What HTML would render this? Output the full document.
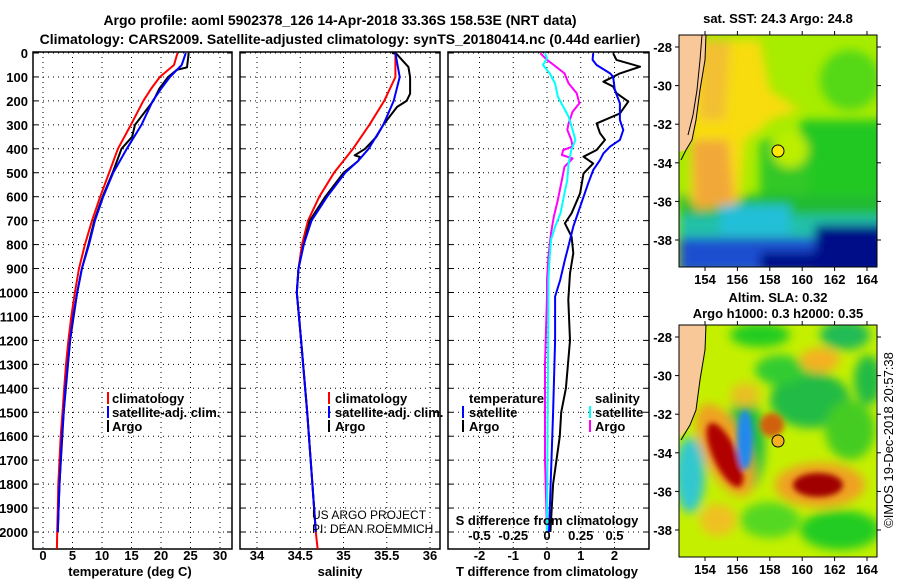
<!DOCTYPE html>
<html><head><meta charset="utf-8"><style>
html,body{margin:0;padding:0;background:#fff;}
svg{display:block;font-family:"Liberation Sans",Arial,sans-serif;}
.b{font-weight:bold;font-size:13px;}
</style></head><body>
<svg id="chart" width="900" height="580" viewBox="0 0 900 580">
<defs>
<filter id="blur4" x="-20%" y="-20%" width="140%" height="140%"><feGaussianBlur stdDeviation="5"/></filter>
<filter id="blur2" x="-20%" y="-20%" width="140%" height="140%"><feGaussianBlur stdDeviation="3"/></filter>
<clipPath id="cTop"><rect x="679" y="35" width="198" height="232"/></clipPath>
<clipPath id="cBot"><rect x="679" y="325" width="198" height="232"/></clipPath>
<clipPath id="cp1"><rect x="33" y="52" width="199" height="497"/></clipPath>
<clipPath id="cp2"><rect x="240" y="52" width="200" height="497"/></clipPath>
<clipPath id="cp3"><rect x="448" y="52" width="201" height="497"/></clipPath>
</defs>
<text x="340" y="25" text-anchor="middle" class="b" style="font-size:14px">Argo profile: aoml 5902378_126 14-Apr-2018 33.36S 158.53E (NRT data)</text>
<text x="340" y="44" text-anchor="middle" class="b" style="font-size:14px">Climatology: CARS2009. Satellite-adjusted climatology: synTS_20180414.nc (0.44d earlier)</text>
<g id="axes"></g>
<g id="series"></g>
<g id="legends">
  <g class="b">
    <rect x="107" y="392" width="2" height="12" fill="#f00"/><text x="112" y="403">climatology</text>
    <rect x="107" y="406" width="2" height="12" fill="#00f"/><text x="112" y="417">satellite-adj. clim.</text>
    <rect x="107" y="420" width="2" height="12" fill="#000"/><text x="112" y="431">Argo</text>
  </g>
  <g class="b">
    <rect x="328" y="392" width="2" height="12" fill="#f00"/><text x="335" y="403">climatology</text>
    <rect x="328" y="406" width="2" height="12" fill="#00f"/><text x="335" y="417">satellite-adj. clim.</text>
    <rect x="328" y="420" width="2" height="12" fill="#000"/><text x="335" y="431">Argo</text>
  </g>
  <g class="b">
    <text x="469" y="403">temperature</text>
    <rect x="462" y="406" width="2" height="12" fill="#00f"/><text x="469" y="417">satellite</text>
    <rect x="462" y="420" width="2" height="12" fill="#000"/><text x="469" y="431">Argo</text>
    <text x="595" y="403">salinity</text>
    <rect x="589" y="406" width="2" height="12" fill="#0ff"/><text x="595" y="417">satellite</text>
    <rect x="589" y="420" width="2" height="12" fill="#f0f"/><text x="595" y="431">Argo</text>
  </g>
</g>
<text x="312" y="519" font-size="12" fill="#000">US ARGO PROJECT</text>
<text x="312" y="533" font-size="12" fill="#000">PI: DEAN ROEMMICH</text>
<text x="547" y="525" text-anchor="middle" class="b">S difference from climatology</text>
<g id="sTicks" class="b" text-anchor="middle"></g>
<text x="130" y="576" text-anchor="middle" class="b">temperature (deg C)</text>
<text x="340" y="576" text-anchor="middle" class="b">salinity</text>
<text x="547" y="576" text-anchor="middle" class="b">T difference from climatology</text>

<!-- top map SST -->
<text x="778" y="23" text-anchor="middle" class="b">sat. SST: 24.3 Argo: 24.8</text>
<g clip-path="url(#cTop)">
  <rect x="679" y="35" width="198" height="232" fill="#a8ec00"/>
  <g filter="url(#blur4)">
    <ellipse cx="850" cy="80" rx="30" ry="30" fill="#55d818"/>
    <rect x="800" y="120" width="90" height="90" fill="#22c822"/>
    <rect x="760" y="140" width="50" height="70" fill="#30c828"/>
    <rect x="679" y="195" width="210" height="30" fill="#22bb33"/>
    <path d="M705 40 L760 40 L770 90 L800 110 L770 120 L760 130 L745 140 L740 200 L700 210 L690 200 L690 40Z" fill="#f8dc10"/>
    <path d="M700 40 L730 40 L725 120 L700 120 Z" fill="#f2c030"/>
    <path d="M692 140 L728 140 L735 205 L695 210 Z" fill="#f2a838"/>
    <ellipse cx="790" cy="150" rx="18" ry="18" fill="#bcee00"/>
    <rect x="679" y="215" width="210" height="25" fill="#22c0a8"/>
    <rect x="720" y="205" width="70" height="30" fill="#22bfd8"/>
    <rect x="679" y="238" width="210" height="35" fill="#1c50d0"/>
    <rect x="815" y="225" width="70" height="50" fill="#000c88"/>
    <rect x="760" y="252" width="80" height="20" fill="#000a8a"/>
  </g>
  <path d="M679 35 L706 35 L705 60 L700 90 L696 120 L692 140 L686 150 L679 152 Z" fill="#f8c898"/>
  <path d="M706 35 L705 60 L700 90 L696 120 L692 140 L686 150 L681 160" fill="none" stroke="#000" stroke-width="1"/>
  <path d="M702 35 L700 60 L697 90 L693 115 L688 135" fill="none" stroke="#000" stroke-width="1"/>
  <circle cx="778" cy="151" r="6" fill="#ffe800" stroke="#000" stroke-width="1"/>
</g>
<rect x="679" y="35" width="198" height="232" fill="none" stroke="#000"/>

<!-- bottom map SLA -->
<text x="778" y="302" text-anchor="middle" class="b">Altim. SLA: 0.32</text>
<text x="778" y="318" text-anchor="middle" class="b">Argo h1000: 0.3 h2000: 0.35</text>
<g clip-path="url(#cBot)">
  <rect x="679" y="325" width="198" height="232" fill="#c4f000"/>
  <g filter="url(#blur4)">
    <ellipse cx="760" cy="335" rx="30" ry="12" fill="#22cc22"/>
    <ellipse cx="845" cy="335" rx="25" ry="15" fill="#22bb55"/>
    <ellipse cx="868" cy="380" rx="14" ry="25" fill="#22bb44"/>
    <ellipse cx="810" cy="400" rx="40" ry="28" fill="#22bb44"/>
    <ellipse cx="780" cy="370" rx="25" ry="15" fill="#33cc33"/>
    <ellipse cx="850" cy="430" rx="25" ry="30" fill="#44cc22"/>
    <ellipse cx="820" cy="360" rx="20" ry="12" fill="#f5b020"/>
    <ellipse cx="745" cy="445" rx="20" ry="48" fill="#22bb44"/>
    <ellipse cx="690" cy="475" rx="15" ry="38" fill="#33c8d0"/>
    <ellipse cx="725" cy="450" rx="22" ry="50" fill="#f0a020" transform="rotate(-25 725 450)"/>
    <ellipse cx="820" cy="485" rx="45" ry="22" fill="#f0a020"/>
    <ellipse cx="840" cy="530" rx="40" ry="20" fill="#22cc22"/>
    <ellipse cx="770" cy="520" rx="30" ry="18" fill="#55d822"/>
    <ellipse cx="718" cy="520" rx="18" ry="16" fill="#f0c020"/>
    <ellipse cx="745" cy="395" rx="15" ry="12" fill="#e8c020"/>
  </g>
  <g filter="url(#blur2)">
    <ellipse cx="725" cy="455" rx="12" ry="35" fill="#b00000" transform="rotate(-25 725 455)"/>
    <ellipse cx="745" cy="440" rx="8" ry="30" fill="#2288ee"/>
    <ellipse cx="772" cy="425" rx="12" ry="12" fill="#d06010"/>
    <ellipse cx="818" cy="485" rx="25" ry="12" fill="#a00000"/>
  </g>
  <path d="M679 325 L706 325 L705 350 L700 380 L696 410 L690 425 L679 438 Z" fill="#f8c898"/>
  <path d="M706 325 L705 350 L700 380 L696 410 L690 425 L681 440" fill="none" stroke="#000" stroke-width="1"/>
  <circle cx="778" cy="441" r="6" fill="#f5b020" stroke="#000" stroke-width="1"/>
</g>
<rect x="679" y="325" width="198" height="232" fill="none" stroke="#000"/>
<g id="mapAxes" class="b"></g>
<text transform="translate(893,440) rotate(-90)" text-anchor="middle" font-size="13">©IMOS 19-Dec-2018 20:57:38</text>
</svg>
<script>
// ---- data ----
const depthTicks = [0,100,200,300,400,500,600,700,800,900,1000,1100,1200,1300,1400,1500,1600,1700,1800,1900,2000];
const tempTicks = [0,5,10,15,20,25,30];
const salTicks = [34,34.5,35,35.5,36];
const salTickLabels = ["34","34.5","35","35.5","36"];
const tdiffTicks = [-2,-1,0,1,2];
const sdiffTicks = [-0.5,-0.25,0,0.25,0.5];
const sdiffTickLabels = ["-0.5","-0.25","0","0.25","0.5"];

const climTempDepth = [0,50,100,150,200,300,400,500,600,700,800,900,1000,1100,1200,1300,1400,1500,1600,1700,1800,1900,2000,2070];
const climTemp = [22.8,22.2,19.8,18.3,17,14.9,12.7,11.2,9.7,8.3,7.1,6.1,5.4,4.8,4.3,3.9,3.6,3.3,3.0,2.8,2.6,2.5,2.4,2.35];
const satTempDepth = [0,50,100,150,200,300,400,500,600,700,800,900,1000,1100,1200,1300,1400,1500,1600,1700,1800,1900,2000];
const satTemp = [24.2,23.5,21.5,20,18.6,16.7,14.2,11.9,10.2,8.8,7.8,6.6,5.8,5.1,4.6,4.2,3.8,3.5,3.2,3.0,2.8,2.65,2.5];
const argoTempDepth = [0,60,70,100,150,200,300,350,400,500,600,700,800,900,1000,1200,1500,1800,2000];
const argoTemp = [24.7,24.4,22.7,21.2,19.7,18.7,15.6,15.1,13.3,11.8,10.1,8.7,7.7,6.6,5.8,4.6,3.5,2.8,2.5];

const climSalDepth = [0,100,200,300,400,500,600,700,800,900,1000,1200,1500,1800,2000,2070];
const climSal = [35.6,35.6,35.47,35.3,35.11,34.89,34.72,34.59,34.52,34.48,34.46,34.51,34.58,34.64,34.68,34.7];
const satSalDepth = [0,100,200,300,400,450,500,600,700,800,900,1000,1200,1500,1800,2000];
const satSal = [35.6,35.65,35.58,35.46,35.29,35.17,35.02,34.81,34.63,34.54,34.48,34.46,34.51,34.58,34.64,34.68];
const argoSalDepth = [0,3,58,100,170,200,225,300,350,400,427,434,451,500,600,700,800,900,1000,1200,1500,1800,2000];
const argoSal = [35.56,35.61,35.75,35.77,35.77,35.73,35.62,35.46,35.38,35.25,35.13,35.19,35.17,35.0,34.79,34.61,34.54,34.48,34.46,34.51,34.58,34.64,34.68];

const argoTdiffDepth = [1,29,57,85,120,140,168,203,252,294,335,363,405,433,461,503,586,669,711,767,836,920,1031,1200,1400,1500,1600,1800,2000];
const argoTdiff = [1.96,2.06,2.76,2.16,1.67,1.96,2.06,2.41,2.16,1.47,1.57,1.72,1.47,1.08,1.37,1.08,0.98,0.73,0.53,0.73,0.78,0.68,0.63,0.68,0.56,0.42,0.38,0.18,0.1];
const satTdiffDepth = [1,29,50,85,99,154,210,280,321,363,391,419,447,489,544,642,725,809,864,948,1017,1200,1500,2000];
const satTdiff = [1.37,1.35,1.47,1.87,1.96,2.01,2.16,2.16,2.26,2.16,1.87,1.67,1.57,1.37,1.22,0.98,0.78,0.63,0.53,0.39,0.24,0.24,0.18,0.06];
const argoSdiffDepth = [1,29,50,85,127,168,210,245,294,321,363,391,405,426,440,475,530,614,684,753,851,948,1017,1300,1700,2000];
const argoSdiff = [-0.05,0,0.05,0.13,0.16,0.22,0.24,0.19,0.16,0.15,0.18,0.19,0.12,0.11,0.19,0.13,0.11,0.08,0.05,0.03,0.01,0,0,-0.015,-0.015,0];
const satSdiffDepth = [1,22,50,85,127,182,224,266,321,363,405,461,530,586,669,725,781,851,948,1017,1500,2000];
const satSdiff = [-0.015,0,-0.03,0.02,0.06,0.08,0.12,0.16,0.19,0.21,0.18,0.16,0.15,0.13,0.1,0.06,0.03,0.02,0.01,0.01,0.005,0];

const mapLonTicks = [154,156,158,160,162,164];
const mapLatTicks = [-28,-30,-32,-34,-36,-38];

// ---- scales ----
const NS = "http://www.w3.org/2000/svg";
const yD = d => 53 + d * 0.2395;
const xT = t => 43 + 5.9 * t;
const xS = s => 257 + 86.5 * (s - 34);
const xdT = d => 547 + 33.75 * d;
const xdS = d => 547 + 135 * d;
const mapLonX = lon => 705 + (lon - 154) * 16.2;
const mapLatY = (lat, top) => top + (-28 - lat) * 19.3;

function mk(tag, attrs, parent) {
  const e = document.createElementNS(NS, tag);
  for (const k in attrs) e.setAttribute(k, attrs[k]);
  parent.appendChild(e);
  return e;
}
const axes = document.getElementById('axes');
const series = document.getElementById('series');

const panels = [
  {x0:33, x1:232, xs:xT, ticks:tempTicks, labels:tempTicks.map(String), name:'temperature-panel'},
  {x0:240, x1:440, xs:xS, ticks:salTicks, labels:salTickLabels, name:'salinity-panel'},
  {x0:448, x1:649, xs:xdT, ticks:tdiffTicks, labels:tdiffTicks.map(String), name:'difference-panel'}
];
const yTop = 52, yBot = 549;
panels.forEach(p => {
  const g = mk('g', {}, axes);
  
  
  depthTicks.forEach(d => {
    const y = yD(d);
    const l = mk('line', {x1:p.x0, x2:p.x1, y1:y, y2:y, stroke:'#000', 'stroke-width':1, 'stroke-dasharray':'1,4'}, g);
    
    
    mk('line', {x1:p.x0, x2:p.x0+5, y1:y, y2:y, stroke:'#000'}, g);
    mk('line', {x1:p.x1-5, x2:p.x1, y1:y, y2:y, stroke:'#000'}, g);
  });
  p.ticks.forEach((t, i) => {
    const x = p.xs(t);
    const l = mk('line', {x1:x, x2:x, y1:yTop, y2:yBot, stroke:'#000', 'stroke-width':1, 'stroke-dasharray':'1,4'}, g);
    
    
    const tx = mk('text', {x:x, y:560, 'text-anchor':'middle', class:'b'}, g);
    tx.textContent = p.labels[i];
    
    
  });
  const f = mk('rect', {x:p.x0, y:yTop, width:p.x1-p.x0, height:yBot-yTop, fill:'none', stroke:'#000', 'stroke-width':1.5}, g);
  
  
});
depthTicks.forEach(d => {
  const t = mk('text', {x:28, y:yD(d)+5, 'text-anchor':'end', class:'b'}, axes);
  t.textContent = String(d);
  
  
});
const sT = document.getElementById('sTicks');
sdiffTicks.forEach((v, i) => {
  const t = mk('text', {x:xdS(v), y:540}, sT);
  t.textContent = sdiffTickLabels[i];
  
  
});

function line(depths, vals, xs, color, clip, name, w) {
  const pts = depths.map((d, i) => xs(vals[i]).toFixed(1) + ',' + yD(d).toFixed(1)).join(' ');
  const pl = mk('polyline', {points:pts, fill:'none', stroke:color, 'stroke-width':w||2, 'clip-path':'url(#'+clip+')', 'stroke-linejoin':'round'}, series);
  
  
}
line(climTempDepth, climTemp, xT, '#f00', 'cp1', 'temperature-climatology-line');
line(argoTempDepth, argoTemp, xT, '#000', 'cp1', 'temperature-argo-line');
line(satTempDepth, satTemp, xT, '#00f', 'cp1', 'temperature-satellite-line');
line(climSalDepth, climSal, xS, '#f00', 'cp2', 'salinity-climatology-line');
line(argoSalDepth, argoSal, xS, '#000', 'cp2', 'salinity-argo-line');
line(satSalDepth, satSal, xS, '#00f', 'cp2', 'salinity-satellite-line');
line(argoSdiffDepth, argoSdiff, xdS, '#f0f', 'cp3', 's-diff-argo-line');
line(satSdiffDepth, satSdiff, xdS, '#0ff', 'cp3', 's-diff-satellite-line');
line(argoTdiffDepth, argoTdiff, xdT, '#000', 'cp3', 't-diff-argo-line');
line(satTdiffDepth, satTdiff, xdT, '#00f', 'cp3', 't-diff-satellite-line');

// map axes
const ma = document.getElementById('mapAxes');
[{top:35, bot:267, lab:284}, {top:325, bot:557, lab:574}].forEach(m => {
  mapLonTicks.forEach(lon => {
    const x = mapLonX(lon);
    mk('line', {x1:x, x2:x, y1:m.top-4, y2:m.top, stroke:'#000'}, ma);
    mk('line', {x1:x, x2:x, y1:m.bot, y2:m.bot+4, stroke:'#000'}, ma);
    const t = mk('text', {x:x, y:m.lab, 'text-anchor':'middle'}, ma);
    t.textContent = String(lon);
    
    
  });
  mapLatTicks.forEach(lat => {
    const y = mapLatY(lat, m.top + 12);
    mk('line', {x1:675, x2:679, y1:y, y2:y, stroke:'#000'}, ma);
    mk('line', {x1:877, x2:881, y1:y, y2:y, stroke:'#000'}, ma);
    const t = mk('text', {x:672, y:y+5, 'text-anchor':'end'}, ma);
    t.textContent = String(lat);
    
    
  });
});
</script>
</body></html>
